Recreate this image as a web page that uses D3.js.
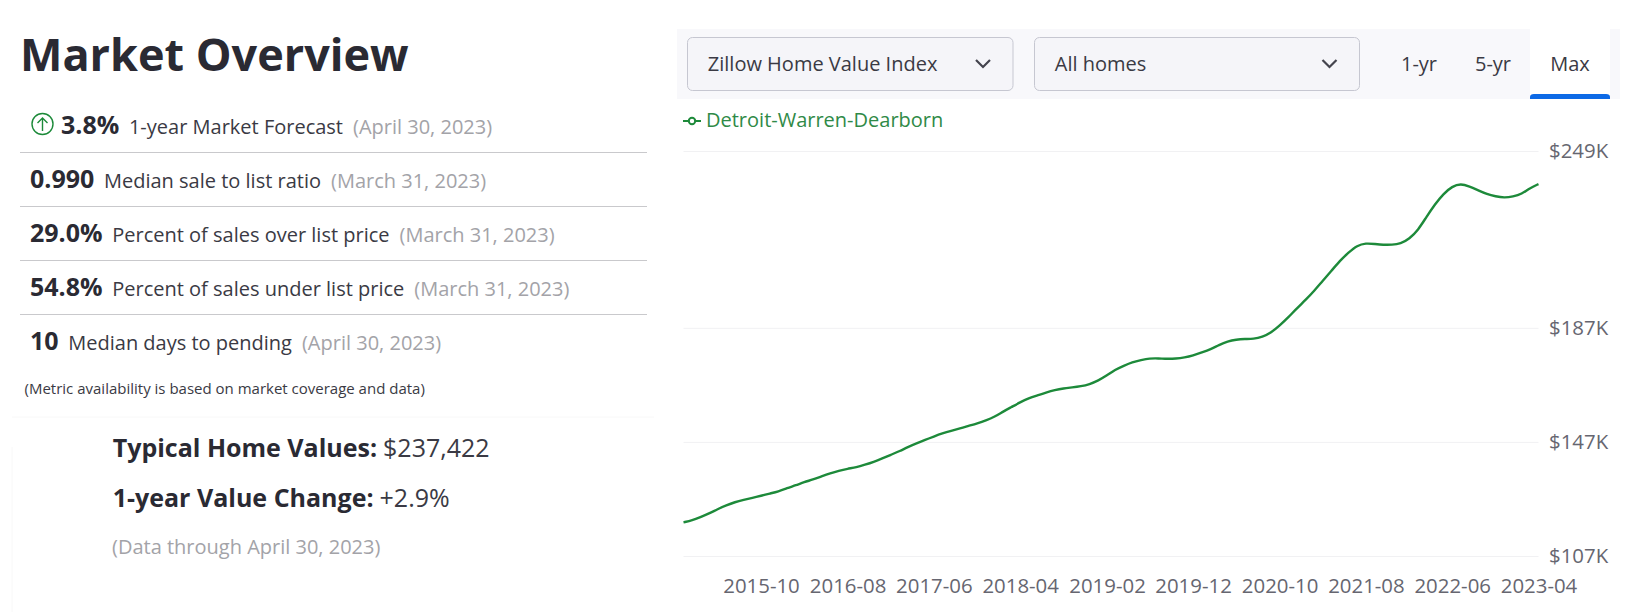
<!DOCTYPE html>
<html>
<head>
<meta charset="utf-8">
<style>
body { margin: 0; background: #fff; overflow: hidden; }
svg { display: block; font-family: "Open Sans", sans-serif; }
.axis text { font-family: "Open Sans", sans-serif; font-size: 20.4px; fill: #666670; }
</style>
</head>
<body>
<div id="elm"></div>
<script src="https://d3js.org/d3.v7.min.js"></script>
<script>
'use strict';

// monthly, 2015-01 through 2023-04, in $K
var homeValues = [
  118.8, 119.5, 120.6, 121.9, 123.4, 124.8, 125.9, 126.7, 127.4, 128.1,
  128.9, 129.6, 130.8, 131.8, 132.9, 133.8, 134.9, 136.0, 136.9, 137.6,
  138.1, 139.0, 140.0, 141.2, 142.5, 143.8, 145.2, 146.5, 147.7, 148.9,
  150.0, 150.9, 151.7, 152.6, 153.5, 154.5, 155.8, 157.7, 159.2, 160.9,
  162.3, 163.3, 164.3, 165.2, 165.8, 166.1, 166.5, 167.2, 168.5, 170.3,
  172.3, 173.7, 175.0, 175.7, 176.3, 176.3, 176.1, 176.2, 176.6, 177.3,
  178.4, 179.5, 181.0, 182.3, 182.9, 183.1, 183.1, 183.8, 185.3, 187.8,
  190.7, 193.9, 196.8, 200.1, 203.4, 206.9, 210.5, 213.4, 215.9, 216.7,
  216.4, 216.1, 216.1, 216.5, 218.2, 221.3, 225.7, 230.3, 234.0, 236.6,
  237.6, 236.6, 235.2, 233.9, 233.1, 232.6, 233.0, 233.9, 236.0, 237.4
];
var startMonth = '2015-01';
var xTickLabels = ['2015-10', '2016-08', '2017-06', '2018-04', '2019-02',
                   '2019-12', '2020-10', '2021-08', '2022-06', '2023-04'];
var yTickValues = [107, 147, 187, 249];
var seriesName = 'Detroit-Warren-Dearborn';

var metricValues = ['3.8%', '0.990', '29.0%', '54.8%', '10'];
var metricLabels = ['1-year Market Forecast', 'Median sale to list ratio',
                    'Percent of sales over list price', 'Percent of sales under list price',
                    'Median days to pending'];
var metricDates = ['(April 30, 2023)', '(March 31, 2023)', '(March 31, 2023)',
                   '(March 31, 2023)', '(April 30, 2023)'];

var ink = '#2a2a33', grey = '#a3a3a8', green = '#1d8a3a';

var svg = d3.select('#elm').append('svg').attr('width', 1625).attr('height', 612);

function label(x, y, str, size, color, weight) {
  return svg.append('text').attr('x', x).attr('y', y).text(str)
    .attr('font-size', size).attr('fill', color).attr('font-weight', weight || 400);
}

// left panel
label(20, 71, 'Market Overview', 45, ink, 700);

var rowX = [61, 30, 30, 30, 30];
metricValues.forEach(function (v, i) {
  var y = 134 + i * 54;
  var val = label(rowX[i], y, v, 25, ink, 700);
  var lx = rowX[i] + val.node().getComputedTextLength() + 9.7;
  var lab = label(lx, y, metricLabels[i], 20, '#3a3a44');
  label(lx + lab.node().getComputedTextLength() + 10, y, metricDates[i], 20, grey);
  if (i < 4) {
    svg.append('line').attr('x1', 20).attr('x2', 647).attr('y1', y + 18.5).attr('y2', y + 18.5)
      .attr('stroke', '#c9c9cc');
  }
});

// up-arrow icon on the forecast row
var icon = svg.append('g').attr('transform', 'translate(42.5,124)')
  .attr('fill', 'none').attr('stroke', green).attr('stroke-width', 1.4);
icon.append('circle').attr('r', 10.5);
icon.append('path').attr('d', 'M0,7V-6M-5,-1L0,-6L5,-1');

label(24.5, 394, '(Metric availability is based on market coverage and data)', 15, '#3a3a44');

svg.append('path').attr('d', 'M12,612V447M12,417H654').attr('fill', 'none').attr('stroke', '#f8f8f8');

var typical = label(112.7, 457, 'Typical Home Values:', 25, ink, 700);
label(112.7 + typical.node().getComputedTextLength() + 6, 457, '$237,422', 25, '#3a3a44');
var change = label(112.7, 507, '1-year Value Change:', 25, ink, 700);
label(112.7 + change.node().getComputedTextLength() + 6, 507, '+2.9%', 25, '#3a3a44');
label(112, 554, '(Data through April 30, 2023)', 20, grey);

// controls
svg.append('rect').attr('x', 677).attr('y', 29).attr('width', 943).attr('height', 70).attr('fill', '#f8f8fb');

[[687.5, 325.5, 'Zillow Home Value Index'], [1034.5, 325, 'All homes']].forEach(function (s) {
  svg.append('rect').attr('x', s[0]).attr('y', 37.5).attr('width', s[1]).attr('height', 53).attr('rx', 5)
    .attr('fill', '#f5f5f9').attr('stroke', '#c6c7d1');
  label(s[0] + 20.3, 71, s[2], 20, '#3a3a44');
  var cx = s[0] + s[1] - 30;
  svg.append('path').attr('d', 'M' + (cx - 7) + ',60L' + cx + ',67L' + (cx + 7) + ',60')
    .attr('fill', 'none').attr('stroke', '#44444e').attr('stroke-width', 2.2);
});

svg.append('rect').attr('x', 1530).attr('y', 29).attr('width', 80).attr('height', 70).attr('fill', '#fff');
svg.append('path').attr('d', 'M1530,99V97Q1530,94 1534,94H1606Q1610,94 1610,97V99Z').attr('fill', '#0d6ae6');
[[1419, '1-yr'], [1493, '5-yr'], [1570, 'Max']].forEach(function (t) {
  label(t[0], 71, t[1], 20, '#3a3a44').attr('text-anchor', 'middle');
});

// legend
svg.append('line').attr('x1', 683).attr('x2', 701).attr('y1', 121).attr('y2', 121)
  .attr('stroke', green).attr('stroke-width', 2);
svg.append('circle').attr('cx', 692).attr('cy', 121).attr('r', 3.2)
  .attr('fill', '#fff').attr('stroke', green).attr('stroke-width', 2);
label(706, 127, seriesName, 20, '#2f8a47');

// chart
var parseMonth = d3.utcParse('%Y-%m');
var start = parseMonth(startMonth);
var data = homeValues.map(function (v, i) {
  return { date: d3.utcMonth.offset(start, i), value: v };
});

var plotLeft = 683.5, plotRight = 1538.5, plotTop = 151, plotBottom = 556;
var x = d3.scaleUtc().domain(d3.extent(data, function (d) { return d.date; })).range([plotLeft, plotRight]);
var y = d3.scaleLinear().domain([107, 249]).range([plotBottom, plotTop]);

var yAxis = d3.axisRight(y).tickValues(yTickValues).tickSize(-(plotRight - plotLeft)).tickPadding(0)
  .tickFormat(function (d) { return '$' + d + 'K'; });
var yG = svg.append('g').attr('class', 'axis').attr('transform', 'translate(' + plotRight + ',0)').call(yAxis);
yG.select('.domain').remove();
yG.selectAll('line').attr('stroke', '#f1f1f3');
yG.selectAll('text').attr('x', 10.5);

var xAxis = d3.axisBottom(x).tickValues(xTickLabels.map(parseMonth)).tickSize(0).tickPadding(0)
  .tickFormat(d3.utcFormat('%Y-%m'));
var xG = svg.append('g').attr('class', 'axis').attr('transform', 'translate(0,' + plotBottom + ')').call(xAxis);
xG.select('.domain').remove();
xG.selectAll('text').attr('y', 37).attr('dy', 0);

var line = d3.line()
  .x(function (d) { return x(d.date); })
  .y(function (d) { return y(d.value); })
  .curve(d3.curveBasis);

svg.append('path').datum(data).attr('d', line)
  .attr('fill', 'none').attr('stroke', green).attr('stroke-width', 2.4);
</script>
</body>
</html>
